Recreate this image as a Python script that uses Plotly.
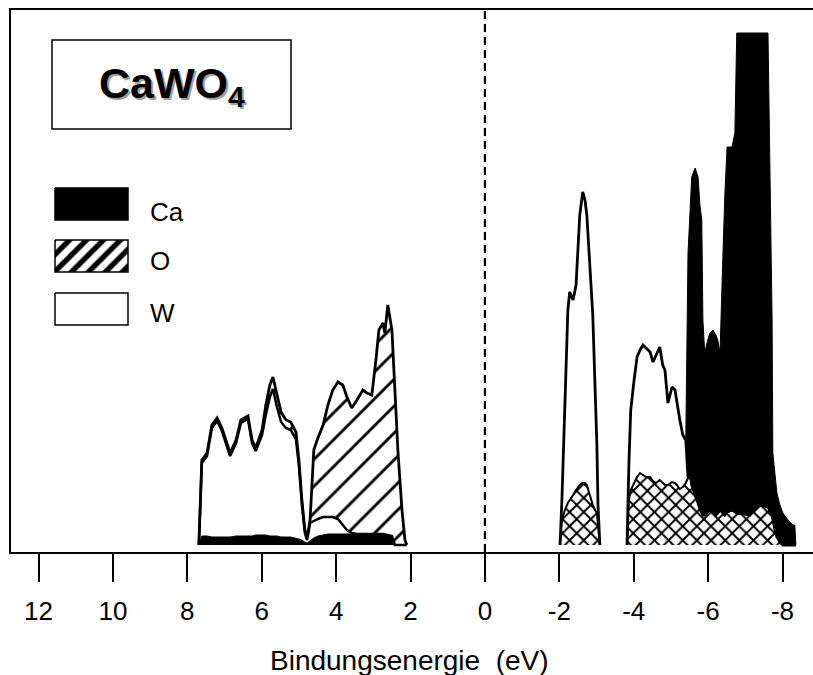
import plotly.graph_objects as go

# ---------------- data ----------------
# Valence band (binding energy > 0), partial DOS stacked: Ca, W, O
vb_energy = [7.69, 7.61, 7.47, 7.34, 7.20, 7.07, 6.96, 6.85, 6.69, 6.56, 6.37, 6.26, 6.16,
             5.99, 5.89, 5.78, 5.70, 5.59, 5.48, 5.35, 5.22, 5.08, 5.00, 4.92, 4.84, 4.78,
             4.70, 4.60, 4.49, 4.35, 4.22, 4.09, 3.95, 3.82, 3.71, 3.58, 3.44, 3.28, 3.17,
             3.04, 2.93, 2.85, 2.74, 2.69, 2.61, 2.50, 2.42, 2.34, 2.23, 2.15, 2.10]
vb_ca = [0, 0.09, 0.09, 0.08, 0.08, 0.08, 0.08, 0.08, 0.09, 0.09, 0.09, 0.09, 0.10,
         0.10, 0.10, 0.09, 0.09, 0.09, 0.08, 0.08, 0.08, 0.07, 0.06, 0.05, 0.03, 0.02,
         0.04, 0.07, 0.09, 0.10, 0.11, 0.11, 0.11, 0.11, 0.11, 0.11, 0.11, 0.11, 0.11,
         0.11, 0.11, 0.11, 0.11, 0.11, 0.10, 0.09, 0, 0, 0, 0, 0]
vb_w = [0, 0.73, 0.80, 1.09, 1.16, 1.06, 0.94, 0.81, 0.93, 1.13, 1.17, 0.93, 0.84,
        1.00, 1.20, 1.39, 1.47, 1.29, 1.15, 1.09, 1.07, 0.99, 0.73, 0.35, 0.09, 0.03,
        0.18, 0.17, 0.17, 0.18, 0.17, 0.17, 0.15, 0.09, 0.04, 0.01, 0, 0, 0,
        0, 0, 0, 0, 0, 0, 0, 0, 0, 0, 0, 0]
vb_o = [0, 0.03, 0.03, 0.03, 0.03, 0.03, 0.03, 0.03, 0.03, 0.03, 0.03, 0.03, 0.03,
        0.05, 0.10, 0.12, 0.12, 0.12, 0.10, 0.08, 0.08, 0.07, 0.06, 0.05, 0.03, 0.02,
        0.03, 0.71, 0.81, 0.92, 1.12, 1.27, 1.37, 1.40, 1.33, 1.25, 1.34, 1.44, 1.41,
        1.39, 1.74, 2.04, 2.11, 2.01, 2.30, 2.06, 1.55, 0.95, 0.35, 0.05, 0]

# Conduction band, first peak (stacked: O, W)
cb1_energy = [-2.02, -2.07, -2.15, -2.23, -2.28, -2.37, -2.45, -2.50, -2.55, -2.63,
              -2.69, -2.74, -2.82, -2.90, -2.96, -3.01, -3.04, -3.09]
cb1_o = [0, 0.25, 0.35, 0.42, 0.45, 0.50, 0.55, 0.58, 0.60, 0.62,
         0.62, 0.60, 0.50, 0.40, 0.35, 0.32, 0.25, 0]
cb1_w = [0, 0.20, 0.97, 1.93, 2.08, 1.95, 2.05, 2.37, 2.70, 2.91,
         2.83, 2.70, 2.30, 1.90, 1.30, 0.68, 0.15, 0]

# Conduction band, second region (stacked: O, W, Ca)
cb2_energy = [-3.82, -3.87, -3.92, -4.01, -4.09, -4.17, -4.25, -4.33, -4.44, -4.52,
              -4.60, -4.70, -4.78, -4.84, -4.92, -5.03, -5.11, -5.16, -5.24, -5.32,
              -5.40, -5.46, -5.51, -5.56, -5.65, -5.73, -5.78, -5.83, -5.86, -5.91,
              -5.99, -6.05, -6.13, -6.21, -6.26, -6.32, -6.40, -6.45, -6.51, -6.64,
              -6.72, -6.77, -7.12, -7.39, -7.61, -7.66, -7.72, -7.74, -7.80, -7.85,
              -7.93, -8.01, -8.15, -8.28, -8.33, -8.36]
cb2_o = [0, 0.45, 0.55, 0.62, 0.68, 0.72, 0.70, 0.68, 0.68, 0.64,
         0.62, 0.65, 0.62, 0.60, 0.60, 0.63, 0.62, 0.60, 0.56, 0.58,
         0.62, 0.68, 0.72, 0.60, 0.50, 0.42, 0.36, 0.32, 0.30, 0.30,
         0.33, 0.35, 0.33, 0.30, 0.32, 0.35, 0.32, 0.30, 0.33, 0.35,
         0.33, 0.32, 0.30, 0.40, 0.38, 0.35, 0.30, 0.25, 0.15, 0.08,
         0.03, 0, 0, 0, 0, 0]
cb2_w = [0, 0.35, 0.80, 1.03, 1.20, 1.23, 1.30, 1.29, 1.25, 1.19,
         1.28, 1.33, 1.18, 1.15, 0.82, 0.95, 0.93, 0.85, 0.69, 0.52,
         0.43, 0, 0, 0, 0, 0, 0, 0, 0, 0,
         0, 0, 0, 0, 0, 0, 0, 0, 0, 0,
         0, 0, 0, 0, 0, 0, 0, 0, 0, 0,
         0, 0, 0, 0, 0, 0]
cb2_ca = [0, 0, 0, 0, 0, 0, 0, 0, 0, 0,
          0, 0, 0, 0, 0, 0, 0, 0, 0, 0,
          0, 2.24, 2.58, 3.08, 3.27, 3.26, 3.04, 2.93, 1.95, 1.62,
          1.72, 1.77, 1.82, 1.80, 1.73, 1.57, 2.60, 3.20, 3.65, 3.63,
          3.79, 4.80, 4.82, 4.72, 4.74, 3.57, 1.95, 0.67, 0.55, 0.44,
          0.37, 0.32, 0.25, 0.20, 0.20, 0]

tick_vals = [12, 10, 8, 6, 4, 2, 0, -2, -4, -6, -8]
tick_text = ["12", "10", "8", "6", "4", "2", "0", "-2", "-4", "-6", "-8"]
legend_labels = ["Ca", "O", "W"]
title_text = "<b>CaWO<sub>4</sub></b>"
x_title = "Bindungsenergie\u00a0\u00a0(eV)"

# ---------------- styling ----------------
FONT = "Liberation Sans, Arial, sans-serif"
W_PX, H_PX = 813, 675
L, R, T, B = 11, 0, 10, 123

hatch_vb = dict(shape="/", size=19, solidity=0.15, fgcolor="black", bgcolor="white",
                fgopacity=1, fillmode="replace")
hatch_cb = dict(shape="x", size=10, solidity=0.35, fgcolor="black", bgcolor="white",
                fgopacity=1, fillmode="replace")

fig = go.Figure()

def add(x, y, group, fillcolor, pattern=None, lw=2.5):
    kw = dict(x=x, y=y, mode="lines", stackgroup=group, fillcolor=fillcolor,
              line=dict(color="black", width=lw, shape="linear"),
              hoverinfo="skip", showlegend=False)
    if pattern is not None:
        kw["fillpattern"] = pattern
    fig.add_trace(go.Scatter(**kw))

# valence band: Ca, W, O
add(vb_energy, vb_ca, "vb", "black", lw=1)
add(vb_energy, vb_w, "vb", "white", lw=2.5)
add(vb_energy, vb_o, "vb", "white", pattern=hatch_vb, lw=2.8)
# conduction band peak 1: O, W
add(cb1_energy, cb1_o, "cb1", "white", pattern=hatch_cb, lw=2)
add(cb1_energy, cb1_w, "cb1", "white", lw=2.8)
# conduction band region 2: O, W, Ca
add(cb2_energy, cb2_o, "cb2", "white", pattern=hatch_cb, lw=2)
add(cb2_energy, cb2_w, "cb2", "white", lw=2.8)
add(cb2_energy, cb2_ca, "cb2", "black", lw=1)

# ---------- legend & title box on a pixel overlay axis ----------
legend_boxes = [(55, 188, 128, 220), (55, 240, 128, 272), (55, 293, 128, 325)]
legend_fills = [dict(fillcolor="black"),
                dict(fillcolor="white", fillpattern=dict(shape="/", size=12, solidity=0.45,
                                                         fgcolor="black", bgcolor="white",
                                                         fgopacity=1, fillmode="replace")),
                dict(fillcolor="white")]
for (x0, y0, x1, y1), f in zip(legend_boxes, legend_fills):
    fig.add_trace(go.Scatter(x=[x0, x1, x1, x0, x0], y=[y0, y0, y1, y1, y0],
                             xaxis="x2", yaxis="y2", mode="lines", fill="toself",
                             line=dict(color="black", width=1.5), hoverinfo="skip",
                             showlegend=False, **f))

label_y = [212, 261, 313]
annotations = []
for lab, yy in zip(legend_labels, label_y):
    annotations.append(dict(x=148, y=yy, xref="x2", yref="y2", text=lab, showarrow=False,
                            xanchor="left", yanchor="middle",
                            font=dict(family=FONT, size=26, color="black")))
# title with shadow
annotations.append(dict(x=174, y=88, xref="x2", yref="y2", text=title_text, showarrow=False,
                        xanchor="center", yanchor="middle",
                        font=dict(family=FONT, size=43, color="#a0a0a0")))
annotations.append(dict(x=172, y=86, xref="x2", yref="y2", text=title_text, showarrow=False,
                        xanchor="center", yanchor="middle",
                        font=dict(family=FONT, size=43, color="black")))
# x axis title
annotations.append(dict(x=0.4975, y=(552 - 660) / 542, xref="paper", yref="paper",
                        text=x_title, showarrow=False, xanchor="center", yanchor="middle",
                        font=dict(family=FONT, size=28, color="black")))

shapes = [
    dict(type="rect", xref="x2", yref="y2", x0=52, y0=40, x1=291, y1=129,
         line=dict(color="black", width=1.5), fillcolor="white", layer="below"),
    dict(type="line", xref="x", yref="paper", x0=0, x1=0, y0=0, y1=1,
         line=dict(color="black", width=2.2, dash="8px,5px")),
]

fig.update_layout(
    width=W_PX, height=H_PX,
    margin=dict(l=L, r=R, t=T, b=B, pad=0),
    paper_bgcolor="white", plot_bgcolor="white",
    showlegend=False,
    font=dict(family=FONT, color="black"),
    xaxis=dict(range=[12.74, -8.82], tickvals=tick_vals, ticktext=tick_text,
               ticks="outside", ticklen=28, tickwidth=1.5, tickcolor="black",
               tickfont=dict(family=FONT, size=26, color="black"),
               ticklabelstandoff=7,
               showline=True, linecolor="black", linewidth=2, mirror=True,
               showgrid=False, zeroline=False),
    yaxis=dict(range=[-0.07, 5.35], showticklabels=False, ticks="",
               showline=True, linecolor="black", linewidth=2, mirror=False,
               showgrid=False, zeroline=False),
    xaxis2=dict(overlaying="x", anchor="y2", range=[11, 813], visible=False),
    yaxis2=dict(overlaying="y", anchor="x2", range=[552, 10], visible=False),
    annotations=annotations,
    shapes=shapes,
)

fig.write_html("out.html", config={"displayModeBar": False},
               post_script="document.body.style.margin='0';document.body.style.overflow='hidden';")
